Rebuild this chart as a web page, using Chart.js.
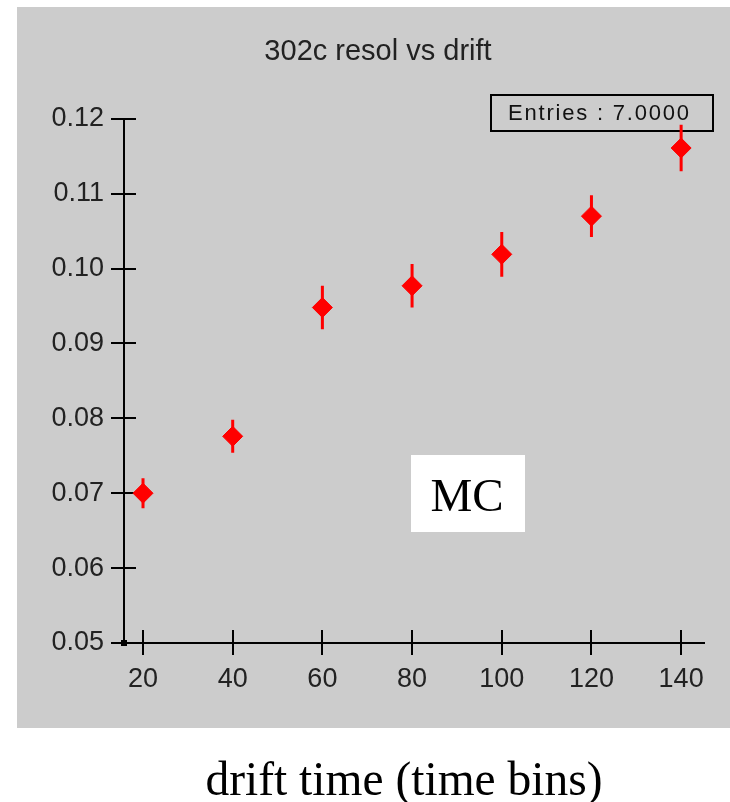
<!DOCTYPE html>
<html>
<head>
<meta charset="utf-8">
<script src="https://cdn.jsdelivr.net/npm/chart.js@4/dist/chart.umd.min.js"></script>
<style>
  html, body { margin: 0; padding: 0; background: #fff; }
  #wrap { width: 730px; height: 802px; }
</style>
</head>
<body>
<div id="wrap"><canvas id="resol-chart" width="730" height="802"></canvas></div>
<script>
// drift time bins and resolution values
const driftBins = [20, 40, 60, 80, 100, 120, 140];
const resolution = [0.0700, 0.0776, 0.0948, 0.0977, 0.1019, 0.1070, 0.1161];
const resolErr = [0.0020, 0.0022, 0.0029, 0.0029, 0.0030, 0.0028, 0.0031];

const xTicks = [20, 40, 60, 80, 100, 120, 140];
const yTicks = [0.05, 0.06, 0.07, 0.08, 0.09, 0.10, 0.11, 0.12];

const points = driftBins.map((x, i) => ({ x: x, y: resolution[i] }));

// extra drawing: gray panel, stats box, error bars, crossing ticks, labels
const panelPlugin = {
  id: "panel",
  beforeDraw(chart) {
    const ctx = chart.ctx;
    ctx.save();
    ctx.fillStyle = "#fff";
    ctx.fillRect(0, 0, chart.width, chart.height);
    ctx.fillStyle = "#cccccc";
    ctx.fillRect(17, 7, 713, 721);
    ctx.restore();
  },
  beforeDatasetsDraw(chart) {
    const ctx = chart.ctx;
    const xs = chart.scales.x;
    const ys = chart.scales.y;
    ctx.save();

    // tick marks crossing the axes
    ctx.strokeStyle = "#000";
    ctx.lineWidth = 2;
    ctx.beginPath();
    xTicks.forEach(v => {
      const px = Math.round(xs.getPixelForValue(v));
      ctx.moveTo(px, ys.bottom - 13);
      ctx.lineTo(px, ys.bottom + 12);
    });
    yTicks.forEach(v => {
      const py = Math.round(ys.getPixelForValue(v));
      ctx.moveTo(xs.left - 13, py);
      ctx.lineTo(xs.left + 12, py);
    });
    ctx.stroke();

    // origin dot
    ctx.fillStyle = "#000";
    ctx.fillRect(xs.left - 3, ys.bottom - 3, 6, 6);

    // stats box
    ctx.lineWidth = 2;
    ctx.strokeRect(491, 95, 222, 36);
    ctx.fillStyle = "#111";
    ctx.font = "22px 'Liberation Sans', Arial, sans-serif";
    ctx.letterSpacing = "1.8px";
    ctx.textBaseline = "middle";
    ctx.textAlign = "left";
    ctx.fillText("Entries : " + driftBins.length.toFixed(4), 508, 114);
    ctx.letterSpacing = "0px";

    // MC label
    ctx.fillStyle = "#fff";
    ctx.fillRect(411, 455, 114, 77);
    ctx.fillStyle = "#000";
    ctx.font = "47px 'Liberation Serif', 'Times New Roman', serif";
    ctx.textAlign = "center";
    ctx.textBaseline = "alphabetic";
    ctx.fillText("MC", 467, 511);

    // axis caption below the panel
    ctx.font = "47.5px 'Liberation Serif', 'Times New Roman', serif";
    ctx.fillText("drift time (time bins)", 404, 795);

    // error bars
    ctx.strokeStyle = "#ff0000";
    ctx.lineWidth = 3;
    ctx.beginPath();
    driftBins.forEach((x, i) => {
      const px = xs.getPixelForValue(x);
      ctx.moveTo(px, ys.getPixelForValue(resolution[i] + resolErr[i]));
      ctx.lineTo(px, ys.getPixelForValue(resolution[i] - resolErr[i]));
    });
    ctx.stroke();
    ctx.restore();
  }
};

const ctx = document.getElementById("resol-chart").getContext("2d");
const resolChart = new Chart(ctx, {
  type: "scatter",
  data: {
    datasets: [
      {
        label: "302c resol vs drift",
        data: points,
        pointStyle: "rectRot",
        pointRadius: 10,
        pointHoverRadius: 10,
        backgroundColor: "#ff0000",
        borderColor: "#ff0000",
        borderWidth: 1,
      },
    ],
  },
  options: {
    responsive: false,
    animation: false,
    events: [],
    layout: { padding: { left: 52, right: 26, top: 0, bottom: 0 } },
    plugins: {
      legend: { display: false },
      tooltip: { enabled: false },
      title: {
        display: true,
        text: "302c resol vs drift",
        color: "#222",
        font: { family: "'Liberation Sans', Arial, sans-serif", size: 29, weight: "normal", lineHeight: 1.2 },
        padding: { top: 35, bottom: 49 },
      },
    },
    scales: {
      x: {
        type: "linear",
        min: 15.76,
        max: 145.1,
        afterBuildTicks: scale => { scale.ticks = xTicks.map(v => ({ value: v })); },
        afterFit: scale => { scale.height = 159; },
        grid: { drawOnChartArea: false, drawTicks: false },
        border: { display: true, color: "#000", width: 2 },
        ticks: {
          color: "#222",
          padding: 20,
          maxRotation: 0,
          font: { family: "'Liberation Sans', Arial, sans-serif", size: 27 },
        },
      },
      y: {
        type: "linear",
        min: 0.05,
        max: 0.12,
        afterBuildTicks: scale => { scale.ticks = yTicks.map(v => ({ value: v })); },
        afterFit: scale => { scale.width = 72; },
        grid: { drawOnChartArea: false, drawTicks: false },
        border: { display: true, color: "#000", width: 2 },
        ticks: {
          color: "#222",
          padding: 20,
          callback: v => v.toFixed(2),
          font: { family: "'Liberation Sans', Arial, sans-serif", size: 27 },
        },
      },
    },
  },
  plugins: [panelPlugin],
});
</script>
</body>
</html>
